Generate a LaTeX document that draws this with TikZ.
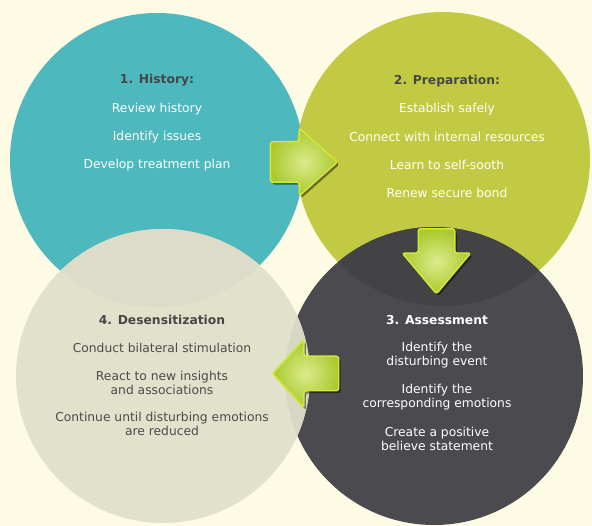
\documentclass[tikz,border=0pt]{standalone}
\usepackage{fontspec}
\setmainfont{DejaVu Sans}
\usetikzlibrary{shapes.arrows,shadows,positioning}
\definecolor{bgcream}{HTML}{FDFBE3}
\definecolor{tealstep}{HTML}{4DB8BE}
\definecolor{limestep}{HTML}{C2CA44}
\definecolor{darkstep}{HTML}{4A4A4F}
\definecolor{sandstep}{HTML}{E2E1CB}
\definecolor{sandteal}{HTML}{DCDCC8}
\definecolor{sanddark}{HTML}{D8D7C3}
\definecolor{darklime}{HTML}{434345}
\definecolor{titlegray}{HTML}{464646}
\definecolor{bodygray}{HTML}{4B4B4B}
\definecolor{arrowlime}{HTML}{A9C92C}
\definecolor{arrowlight}{HTML}{DCEB8C}
\definecolor{arrowrim}{HTML}{D3E63B}

\tikzset{
  phasedisc/.style={circle, inner sep=0pt, minimum size=294pt},
  phase/.style={font=\fontsize{12.3}{14.5}\selectfont, align=center, text=white!94!bgcream, inner sep=0pt},
  phasehead/.style={phase, font=\fontsize{12.3}{14.5}\selectfont\bfseries, text=titlegray},
  steparrow/.style={single arrow, draw=arrowrim, line width=1.5pt, rounded corners=2.5pt,
    inner sep=0pt, text depth=0pt, shading=radial, inner color=arrowlight, outer color=arrowlime,
    drop shadow={shadow xshift=2pt, shadow yshift=-2.5pt, opacity=0.45, fill=black}}
}

\begin{document}
\begin{tikzpicture}[x=1pt, y=-1pt]
\useasboundingbox[fill=bgcream] (0,0) rectangle (592,526);

% the four phases
\coordinate (c1) at (157,160);
\coordinate (c2) at (443,159);
\coordinate (c3) at (434,376);
\coordinate (c4) at (163,376);
\node[phasedisc, fill=tealstep] (history) at (c1) {};
\node[phasedisc, fill=limestep] (prep) at (c2) {};
\node[phasedisc, fill=darkstep, minimum size=298pt] (assess) at (c3) {};
\node[phasedisc, fill=sandstep] (desens) at (c4) {};

% overlaps
\begin{scope}
  \clip (c1) circle (147pt);
  \fill[sandteal] (c4) circle (147pt);
\end{scope}
\begin{scope}
  \clip (c3) circle (149pt);
  \fill[sanddark] (c4) circle (147pt);
\end{scope}
\begin{scope}
  \clip (c2) circle (147pt);
  \fill[darklime] (c3) circle (149pt);
\end{scope}

% 1
\node[phasehead] (t1) at (157,80) {1. History:};
\node[phase] (t1a) at (157,109) {Review history};
\node[phase] (t1b) at (157,137) {Identify issues};
\node[phase] (t1c) at (157,165) {Develop treatment plan};

% 2
\node[phasehead] (t2) at (447,81) {2. Preparation:};
\node[phase] (t2a) at (447,109) {Establish safely};
\node[phase] (t2b) at (447,137) {Connect with internal resources};
\node[phase] (t2c) at (447,165) {Learn to self-sooth};
\node[phase] (t2d) at (447,193) {Renew secure bond};

% 3
\node[phasehead, text=white!94!bgcream] (t3) at (437,320) {3. Assessment};
\node[phase] (t3a) at (437,355) {Identify the\\disturbing event};
\node[phase] (t3b) at (437,397) {Identify the\\corresponding emotions};
\node[phase] (t3c) at (437,439) {Create a positive\\believe statement};

% 4
\node[phasehead] (t4) at (162,320) {4. Desensitization};
\node[phase, text=bodygray] (t4a) at (162,348) {Conduct bilateral stimulation};
\node[phase, text=bodygray] (t4b) at (162,383) {React to new insights\\and associations};
\node[phase, text=bodygray] (t4c) at (162,424) {Continue until disturbing emotions\\are reduced};

% arrows between phases
\node[steparrow, text height=39pt, minimum height=67pt, single arrow head extend=13.5pt,
  single arrow tip angle=83] (a12) at (292.5,162) {};
\node[steparrow, rotate=-90, text height=35pt, minimum height=65pt, single arrow head extend=16pt,
  single arrow tip angle=80] (a23) at (436.5,250.5) {};
\node[steparrow, rotate=180, text height=33pt, minimum height=66pt, single arrow head extend=17pt,
  single arrow tip angle=95] (a34) at (313.5,373.5) {};
\end{tikzpicture}
\end{document}
